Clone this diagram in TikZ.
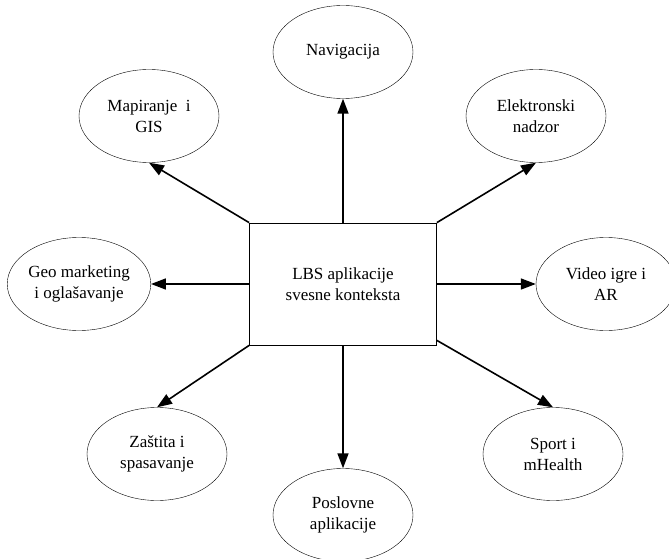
\documentclass[tikz,border=0pt]{standalone}
\usepackage{fontspec}
\setmainfont{Liberation Serif}
\usepackage{tikz}
\usetikzlibrary{shapes.geometric,arrows.meta,positioning}

\tikzset{
    oblast/.style={ellipse, draw, thin, minimum width=140pt, minimum height=93pt,
        inner sep=0pt, align=center, font=\fontsize{17}{21}\selectfont},
    centar/.style={rectangle, draw, line width=0.8pt, minimum width=187pt,
        minimum height=122pt, align=center, font=\fontsize{17}{21}\selectfont},
    veza/.style={line width=1.6pt, -{Triangle[length=15pt,width=11pt]}}
}

\begin{document}
\begin{tikzpicture}[x=1pt,y=-1pt]
    \useasboundingbox (0,0) rectangle (669,559);

    % Central box
    \node[centar] (lbs) at (343,284) {LBS aplikacije\\svesne konteksta};

    % Application areas
    \node[oblast] (nav) at (343,52) {Navigacija};
    \node[oblast] (mapa) at (149,116) {Mapiranje\ \ i\\GIS};
    \node[oblast] (elek) at (536,116) {Elektronski\\nadzor};
    \node[oblast] (geo) at (79,284) {Geo marketing\\i oglašavanje};
    \node[oblast] (video) at (606,284) {Video igre i\\AR};
    \node[oblast] (zastita) at (157,454) {Zaštita i\\spasavanje};
    \node[oblast] (sport) at (553,454) {Sport i\\mHealth};
    \node[oblast] (posao) at (343,515) {Poslovne\\aplikacije};

    % Arrows
    \draw[veza] (lbs.north) -- (nav.south);
    \draw[veza] (lbs.north west) -- (mapa.south);
    \draw[veza] (lbs.north east) -- (elek.south);
    \draw[veza] (lbs.west) -- (geo.east);
    \draw[veza] (lbs.east) -- (video.west);
    \draw[veza] (lbs.south west) -- (zastita.north);
    \draw[veza] ([yshift=5pt]lbs.south east) -- (sport.north);
    \draw[veza] (lbs.south) -- (posao.north);
\end{tikzpicture}
\end{document}
